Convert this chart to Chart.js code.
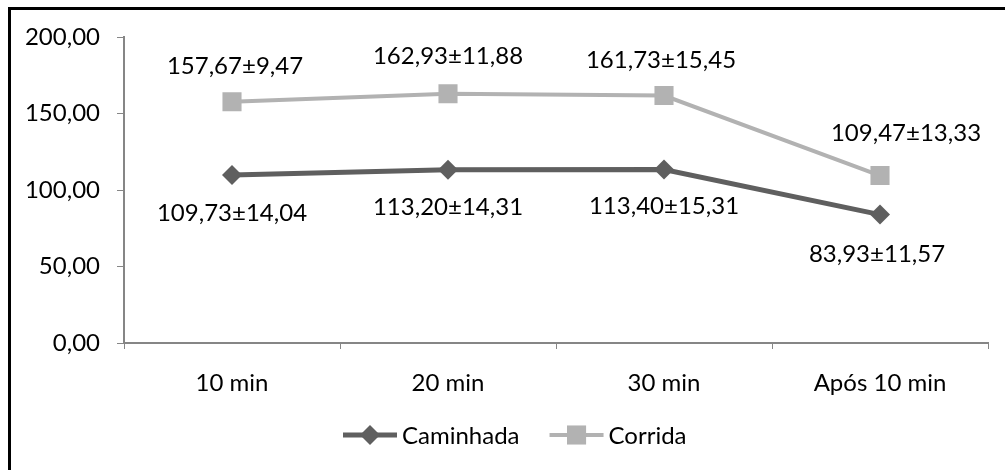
<!DOCTYPE html>
<html>
<head>
<meta charset="utf-8">
<script src="https://cdn.jsdelivr.net/npm/chart.js@4"></script>
<style>
  html, body { margin: 0; padding: 0; background: #fff; overflow: hidden; }
  #wrap { position: relative; width: 1005px; height: 470px; }
  #frame {
    position: absolute; left: 8px; top: 7px; width: 1100px; height: 600px;
    border: 3px solid #000; box-sizing: border-box;
  }
  canvas { position: absolute; left: 0; top: 0; }
</style>
</head>
<body>
<div id="wrap">
  <div id="frame"></div>
  <canvas id="chart" width="1005" height="470"></canvas>
</div>
<script>
// categories and series
const categories = ["10 min", "20 min", "30 min", "Após 10 min"];
const caminhadaMean = [109.73, 113.2, 113.4, 83.93];
const caminhadaSd = [14.04, 14.31, 15.31, 11.57];
const corridaMean = [157.67, 162.93, 161.73, 109.47];
const corridaSd = [9.47, 11.88, 15.45, 13.33];

const FONT = "Lato, 'Open Sans', sans-serif";
const FSIZE = 24;
const fmt = (v) => v.toFixed(2).replace(".", ",");

// label placement per dataset (style only)
const labelOffsets = [
  { dx: [0, 0, 0, -3], dy: [38, 37, 37, 40] },
  { dx: [3, 0, -3, 26], dy: [-35, -37, -35, -42] },
];

const valueLabels = {
  id: "valueLabels",
  afterDatasetsDraw(chart) {
    const ctx = chart.ctx;
    ctx.save();
    ctx.font = `${FSIZE}px ${FONT}`;
    ctx.fillStyle = "#000";
    ctx.textAlign = "center";
    ctx.textBaseline = "middle";
    chart.data.datasets.forEach((ds, di) => {
      const meta = chart.getDatasetMeta(di);
      meta.data.forEach((pt, i) => {
        const txt = fmt(ds.data[i]) + "±" + fmt(ds.sd[i]);
        ctx.fillText(txt, pt.x + labelOffsets[di].dx[i], pt.y + labelOffsets[di].dy[i]);
      });
    });
    ctx.restore();
  },
};

// legend drawn like the original (line + marker + text)
const lineLegend = {
  id: "lineLegend",
  afterDraw(chart) {
    const ctx = chart.ctx;
    ctx.save();
    ctx.font = `${FSIZE}px ${FONT}`;
    ctx.textBaseline = "middle";
    let x = 343;
    const y = 435;
    chart.data.datasets.forEach((ds) => {
      ctx.strokeStyle = ds.borderColor;
      ctx.lineWidth = ds.borderWidth;
      ctx.beginPath();
      ctx.moveTo(x, y);
      ctx.lineTo(x + 54, y);
      ctx.stroke();
      ctx.fillStyle = ds.pointBackgroundColor;
      Chart.helpers.drawPoint(ctx, { pointStyle: ds.pointStyle, radius: ds.pointRadius, borderWidth: 0 }, x + 27, y);
      ctx.fillStyle = "#000";
      ctx.fillText(ds.label, x + 59, y + 1);
      x += 59 + ctx.measureText(ds.label).width + 30;
    });
    ctx.restore();
  },
};

new Chart(document.getElementById("chart"), {
  type: "line",
  data: {
    labels: categories,
    datasets: [
      {
        label: "Caminhada",
        data: caminhadaMean,
        sd: caminhadaSd,
        borderColor: "#5f5f5f",
        backgroundColor: "#5f5f5f",
        pointBackgroundColor: "#5f5f5f",
        borderWidth: 5,
        pointStyle: "rectRot",
        pointRadius: 10,
        pointBorderWidth: 0,
        tension: 0,
      },
      {
        label: "Corrida",
        data: corridaMean,
        sd: corridaSd,
        borderColor: "#b2b2b2",
        backgroundColor: "#b2b2b2",
        pointBackgroundColor: "#b2b2b2",
        borderWidth: 4,
        pointStyle: "rect",
        pointRadius: 13.5,
        pointBorderWidth: 0,
        tension: 0,
      },
    ],
  },
  options: {
    responsive: false,
    animation: false,
    layout: { padding: { top: 37, right: 17, bottom: 70, left: 0 } },
    plugins: {
      legend: { display: false },
      tooltip: { enabled: false },
    },
    scales: {
      x: {
        offset: true,
        grid: {
          offset: true,
          drawOnChartArea: false,
          tickLength: 6,
          color: "#868686",
        },
        border: { color: "#868686", width: 2 },
        ticks: { color: "#000", font: { family: FONT, size: FSIZE }, padding: 20 },
        afterFit: (s) => { s.height = 57; },
      },
      y: {
        min: 0,
        max: 200,
        grid: {
          drawOnChartArea: false,
          tickLength: 7,
          color: "#868686",
        },
        border: { color: "#868686", width: 2 },
        ticks: {
          stepSize: 50,
          color: "#000",
          font: { family: FONT, size: FSIZE },
          padding: 17,
          callback: (v) => fmt(v),
        },
        afterFit: (s) => { s.width = 124; },
      },
    },
  },
  plugins: [valueLabels, lineLegend],
});
</script>
</body>
</html>
